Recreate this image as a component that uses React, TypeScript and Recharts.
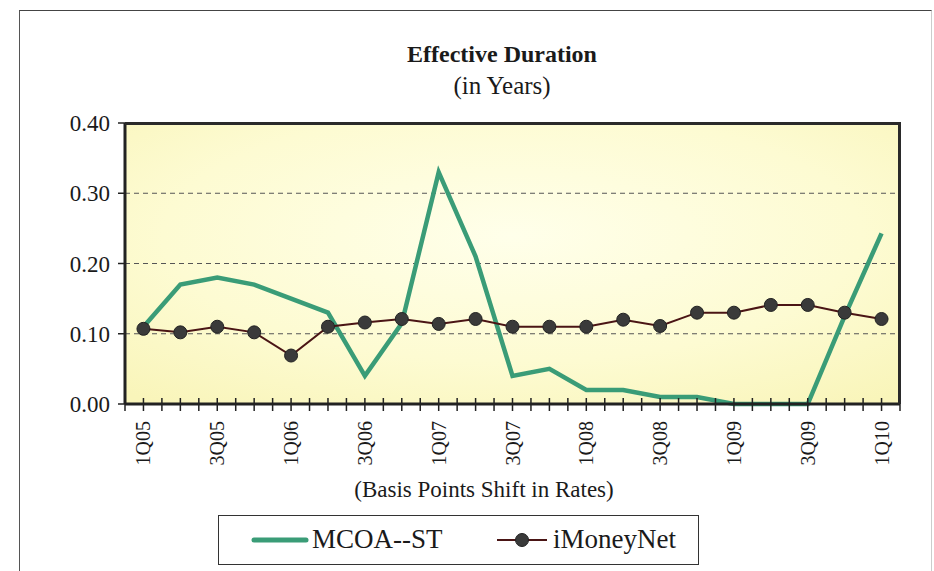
import {
  LineChart,
  Line,
  XAxis,
  YAxis,
  CartesianGrid,
} from 'recharts';

const QUARTERS = [
  '1Q05', '2Q05', '3Q05', '4Q05',
  '1Q06', '2Q06', '3Q06', '4Q06',
  '1Q07', '2Q07', '3Q07', '4Q07',
  '1Q08', '2Q08', '3Q08', '4Q08',
  '1Q09', '2Q09', '3Q09', '4Q09',
  '1Q10',
];

const MCOA_ST = [
  0.11, 0.17, 0.18, 0.17,
  0.15, 0.13, 0.04, 0.115,
  0.33, 0.21, 0.04, 0.05,
  0.02, 0.02, 0.01, 0.01,
  0.0, 0.0, 0.0, 0.125,
  0.243,
];

const IMONEYNET = [
  0.107, 0.102, 0.11, 0.102,
  0.069, 0.11, 0.116, 0.121,
  0.114, 0.121, 0.11, 0.11,
  0.11, 0.12, 0.111, 0.13,
  0.13, 0.141, 0.141, 0.13,
  0.121,
];

const Y_TICKS = [0, 0.1, 0.2, 0.3, 0.4];

const data = QUARTERS.map((q, i) => ({ q, mcoa: MCOA_ST[i], imn: IMONEYNET[i] }));

const FONT = '"Liberation Serif", "Times New Roman", serif';
const W = 934;
const H = 571;
const PLOT_LEFT = 125;
const PLOT_RIGHT = 34;
const PLOT_TOP = 123;
const PLOT_BOTTOM = 167;
const BAND = (W - PLOT_LEFT - PLOT_RIGHT) / QUARTERS.length;

function QuarterTick(props: any) {
  const { x, y, payload, index } = props;
  const half = BAND / 2;
  return (
    <g>
      <line x1={x} x2={x} y1={y - 6} y2={y + 7} stroke="#222" strokeWidth={1.5} />
      <line x1={x - half} x2={x - half} y1={y - 6} y2={y + 7} stroke="#222" strokeWidth={1.5} />
      {index === QUARTERS.length - 1 && (
        <line x1={x + half} x2={x + half} y1={y - 6} y2={y + 7} stroke="#222" strokeWidth={1.5} />
      )}
      {index % 2 === 0 && (
        <text
          transform={`translate(${x},${y + 17}) rotate(-90)`}
          textAnchor="end"
          dy="0.35em"
          fontSize={20}
          fontFamily={FONT}
          fill="#1a1a1a"
        >
          {payload.value}
        </text>
      )}
    </g>
  );
}

export default function App() {
  return (
    <div style={{ position: 'absolute', left: 0, top: 0, width: W, height: H, background: '#fff', overflow: 'hidden', fontFamily: FONT }}>
      {/* outer frame */}
      <div
        style={{
          position: 'absolute',
          left: 19,
          top: 10,
          width: 911,
          height: 620,
          borderTop: '1.5px solid #444',
          borderLeft: '1.5px solid #555',
          borderRight: '1px solid #ccc',
        }}
      />

      <div style={{ position: 'absolute', left: 0, width: W, top: 39, textAlign: 'center', paddingLeft: 70, boxSizing: 'border-box' }}>
        <div style={{ fontSize: 24, fontWeight: 'bold', color: '#1a1a1a', lineHeight: '31px' }}>Effective Duration</div>
        <div style={{ fontSize: 25, color: '#1a1a1a', lineHeight: '32px' }}>(in Years)</div>
      </div>

      <div style={{ position: 'absolute', left: 0, width: W, top: 477, textAlign: 'center', paddingLeft: 34, boxSizing: 'border-box', fontSize: 23, color: '#1a1a1a' }}>
        (Basis Points Shift in Rates)
      </div>

      <div style={{ position: 'absolute', left: 0, top: 0 }}>
        <LineChart
          width={W}
          height={H}
          data={data}
          margin={{ top: PLOT_TOP, right: PLOT_RIGHT, left: PLOT_LEFT - 60, bottom: PLOT_BOTTOM - 60 }}
        >
          <defs>
            <radialGradient id="plotBg" cx="50%" cy="40%" r="75%">
              <stop offset="0%" stopColor="#FFFFEA" />
              <stop offset="60%" stopColor="#FDFBD2" />
              <stop offset="100%" stopColor="#F9F5BA" />
            </radialGradient>
          </defs>
          <CartesianGrid
            vertical={false}
            fill="url(#plotBg)"
            fillOpacity={1}
            stroke="#555"
            strokeDasharray="5 4"
          />
          <XAxis
            dataKey="q"
            height={60}
            interval={0}
            padding={{ left: BAND / 2, right: BAND / 2 }}
            tickLine={false}
            tickSize={0}
            tickMargin={0}
            axisLine={{ stroke: '#222', strokeWidth: 3 }}
            tick={<QuarterTick />}
          />
          <YAxis
            type="number"
            domain={[0, 0.4]}
            ticks={Y_TICKS}
            width={60}
            tickSize={7}
            tickMargin={8}
            tickFormatter={(v: number) => v.toFixed(2)}
            tick={{ fontSize: 23, fontFamily: FONT, fill: '#1a1a1a' }}
            tickLine={{ stroke: '#222', strokeWidth: 1.5 }}
            axisLine={{ stroke: '#222', strokeWidth: 3 }}
          />
          <Line
            dataKey="mcoa"
            name="MCOA--ST"
            stroke="#3A9C77"
            strokeWidth={4.5}
            dot={false}
            isAnimationActive={false}
          />
          <Line
            dataKey="imn"
            name="iMoneyNet"
            stroke="#4A1515"
            strokeWidth={2}
            dot={{ r: 6.5, fill: '#3a3a3a', stroke: '#222', strokeWidth: 1 }}
            isAnimationActive={false}
          />
        </LineChart>
      </div>

      {/* top and right edges of the plot frame */}
      <div
        style={{
          position: 'absolute',
          left: PLOT_LEFT,
          top: PLOT_TOP - 1.5,
          width: W - PLOT_LEFT - PLOT_RIGHT + 1,
          height: H - PLOT_TOP - PLOT_BOTTOM + 1.5,
          borderTop: '3px solid #2a2a2a',
          borderRight: '3px solid #2a2a2a',
          boxSizing: 'border-box',
          pointerEvents: 'none',
        }}
      />

      {/* legend */}
      <div
        style={{
          position: 'absolute',
          left: 218,
          top: 515,
          width: 481,
          height: 50,
          border: '1.5px solid #333',
          boxSizing: 'border-box',
          background: '#fff',
          fontSize: 27,
          color: '#1a1a1a',
        }}
      >
        <svg width={58} height={20} style={{ position: 'absolute', left: 32, top: 14 }}>
          <line x1={3} x2={55} y1={10} y2={10} stroke="#3A9C77" strokeWidth={5} strokeLinecap="round" />
        </svg>
        <span style={{ position: 'absolute', left: 93, top: 7, lineHeight: '32px' }}>MCOA--ST</span>
        <svg width={52} height={20} style={{ position: 'absolute', left: 277, top: 14 }}>
          <line x1={1} x2={51} y1={10} y2={10} stroke="#4A1515" strokeWidth={2} />
          <circle cx={26} cy={10} r={6.5} fill="#3a3a3a" stroke="#222" strokeWidth={1} />
        </svg>
        <span style={{ position: 'absolute', left: 334, top: 7, lineHeight: '32px' }}>iMoneyNet</span>
      </div>
    </div>
  );
}
